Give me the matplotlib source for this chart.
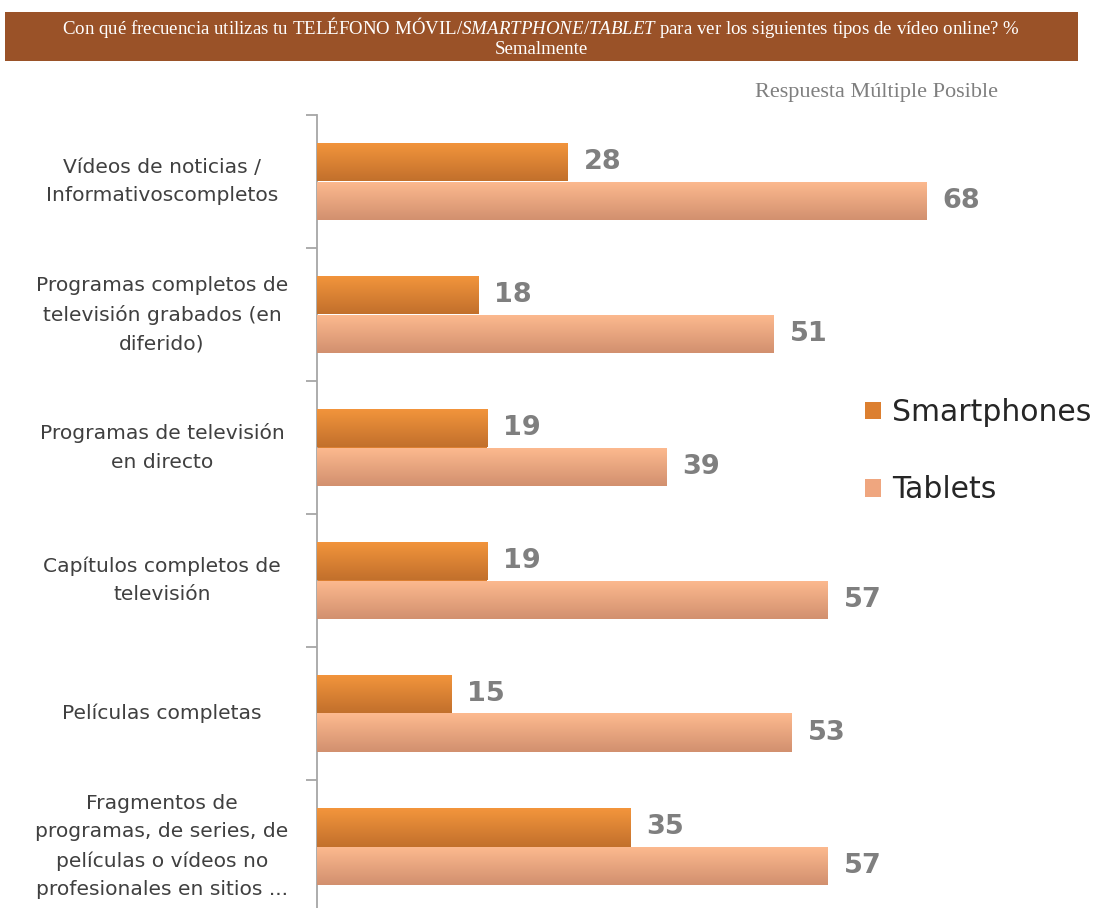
import numpy as np
import matplotlib
matplotlib.use("Agg")
import matplotlib.pyplot as plt
import matplotlib.transforms as mtransforms
from matplotlib.colors import LinearSegmentedColormap
from matplotlib.patches import Rectangle, Patch

plt.rcParams['mathtext.fontset'] = 'custom'
plt.rcParams['mathtext.rm'] = 'Liberation Serif'
plt.rcParams['mathtext.it'] = 'Liberation Serif:italic'

categories = ["Vídeos de noticias /\nInformativoscompletos",
              "Programas completos de\ntelevisión grabados (en\ndiferido)",
              "Programas de televisión\nen directo",
              "Capítulos completos de\ntelevisión",
              "Películas completas",
              "Fragmentos de\nprogramas, de series, de\npelículas o vídeos no\nprofesionales en sitios ..."]
smartphones = [28, 18, 19, 19, 15, 35]
tablets = [68, 51, 39, 57, 53, 57]
series_names = ["Smartphones", "Tablets"]

W, H = 1093, 908
fig = plt.figure(figsize=(W / 100, H / 100), dpi=100)

# axes placed in pixel terms
x0, x1 = 317, 317 + 80 * 8.956
ytop, ybot = 115, 115 + 6 * 133
ax = fig.add_axes([x0 / W, 1 - ybot / H, (x1 - x0) / W, (ybot - ytop) / H])

y = np.arange(len(categories))
bh = 0.29
b1 = ax.barh(y - bh / 2, smartphones, height=bh, color='#DC7F30')
b2 = ax.barh(y + bh / 2, tablets, height=bh, color='#EFA67F')

grad = np.linspace(0, 1, 64).reshape(-1, 1)
cm1 = LinearSegmentedColormap.from_list('s', ['#F3953C', '#C2702C'])
cm2 = LinearSegmentedColormap.from_list('t', ['#FDBA8F', '#D2906F'])
for bars, cm in [(b1, cm1), (b2, cm2)]:
    for p in bars:
        bx, by = p.get_x(), p.get_y()
        bw, bhh = p.get_width(), p.get_height()
        im = ax.imshow(grad, cmap=cm, aspect='auto', origin='upper',
                       extent=(bx, bx + bw, by + bhh, by), zorder=3)
        im.set_clip_path(p)

ax.set_xlim(0, 80)
ax.set_ylim(len(categories) - 0.5, -0.5)

for i in range(len(categories)):
    ax.text(smartphones[i] + 1.8, i - bh / 2, str(smartphones[i]), va='center', ha='left',
            fontsize=19.5, fontweight='bold', color='#7F7F7F')
    ax.text(tablets[i] + 1.8, i + bh / 2, str(tablets[i]), va='center', ha='left',
            fontsize=19.5, fontweight='bold', color='#7F7F7F')

trans = mtransforms.blended_transform_factory(fig.transFigure, ax.transData)
for i, c in enumerate(categories):
    ax.text(162 / W, i, c, transform=trans, ha='center', va='center',
            fontsize=14.6, color='#404040', linespacing=1.62)

for s in ['top', 'right', 'bottom']:
    ax.spines[s].set_visible(False)
ax.spines['left'].set_color('#A6A6A6')
ax.spines['left'].set_linewidth(1.3)
ax.set_xticks([])
ax.set_yticks(np.arange(len(categories) + 1) - 0.5)
ax.set_yticklabels([])
ax.tick_params(axis='y', length=8, color='#A6A6A6', width=1.3)

handles = [Patch(facecolor='#DC7F30'), Patch(facecolor='#EFA67F')]
fig.legend(handles, series_names, loc='upper left', bbox_to_anchor=(850 / W, 1 - 383 / H),
           frameon=False, fontsize=21.5, labelcolor='#262626', handlelength=0.53,
           handleheight=0.53, handletextpad=0.38, labelspacing=1.62, borderpad=0)

# title band
fig.patches.append(Rectangle((5 / W, 1 - 61 / H), 1073 / W, 49 / H,
                             transform=fig.transFigure, facecolor='#9A5228',
                             edgecolor='none'))
fig.text(541 / W, 1 - 28 / H,
         r"Con qué frecuencia utilizas tu TELÉFONO MÓVIL/$\mathit{SMARTPHONE/TABLET}$ para ver los siguientes tipos de vídeo online? %",
         ha='center', va='center', fontsize=13.6, family='Liberation Serif', color='white')
fig.text(541 / W, 1 - 49 / H, "Semalmente", ha='center', va='center', fontsize=13.6,
         family='Liberation Serif', color='white')
fig.text(998 / W, 1 - 93 / H, "Respuesta Múltiple Posible", ha='right', va='center',
         fontsize=16, family='Liberation Serif', color='#7F7F7F')

fig.savefig("out.png", dpi=100)
